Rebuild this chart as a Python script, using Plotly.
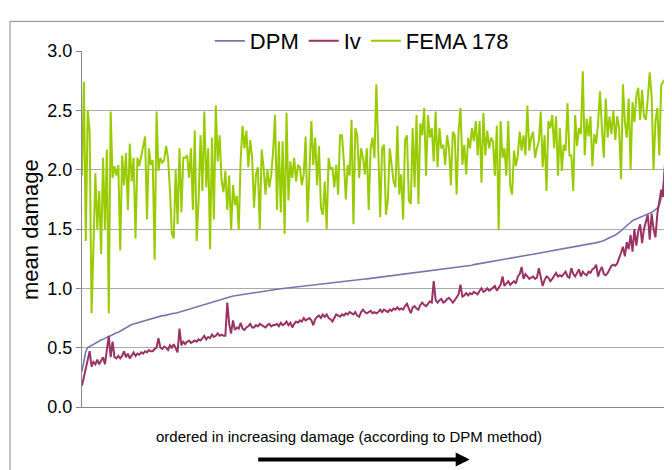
import plotly.graph_objects as go

# ---- data ----
fema = [
    1.95, 2.74, 1.4, 2.5, 2.32, 0.79, 1.35, 1.97, 1.5, 1.82, 1.29, 2.1, 1.5, 2.17, 0.79, 2.49, 1.93, 2.03, 1.95, 2.04,
    1.32, 2.12, 1.87, 2.14, 1.66, 2.22, 1.9, 2.1, 1.42, 2.1, 2.03, 2.12, 2.18, 2.28, 1.58, 2.18, 2.04, 2.08, 1.24, 2.49,
    1.99, 2.1, 2.06, 2.08, 2.2, 2.1, 1.83, 1.46, 1.42,
    2.0, 1.54, 2.18, 1.64, 2.1, 2.1, 2.12, 1.93, 2.18, 1.66, 2.33, 1.4, 1.74, 2.29, 1.82, 2.49, 1.85, 2.18, 1.33, 2.27,
    1.58, 2.54, 2.07, 2.29, 1.91, 1.81, 1.99, 1.66, 1.95, 1.49, 1.87, 1.7, 1.78, 1.49, 2.08, 2.37, 2.18, 2.33, 2.02, 2.25,
    2.1, 1.68, 1.96, 2.02, 1.5, 2.17, 2.02, 1.79, 2.0, 1.85, 1.96, 2.16,
    2.46, 1.66, 2.24, 1.64, 2.24, 1.46, 2.48, 1.74, 2.07, 1.93, 2.1, 1.9, 2.04, 2.02, 1.87, 1.96, 2.28, 1.56, 2.06, 2.41,
    2.04, 2.27, 1.87, 2.2, 1.68, 1.62, 1.9, 1.5, 2.1, 2.0, 2.02, 1.85, 2.04, 1.79, 2.29, 2.29, 2.07, 1.75, 2.04, 1.95,
    2.42, 1.54, 2.35, 2.29, 1.93, 2.18, 2.1, 1.96, 2.18,
    1.66, 2.18, 2.27, 2.1, 2.72, 2.18, 1.6, 2.18, 2.21, 1.62, 1.74, 2.18, 2.04, 1.9, 1.85, 2.37, 1.79, 1.96, 1.58, 2.25,
    2.29, 1.74, 1.71, 2.35, 1.85, 2.46, 1.71, 2.39, 2.29, 2.52, 1.95, 2.46, 2.27, 2.35, 2.07, 2.49, 2.02, 2.35, 2.18, 2.21,
    2.04, 2.29, 2.18, 1.87, 2.32, 2.29, 1.79, 2.32, 2.52, 2.04, 2.21, 1.96, 2.27, 2.18,
    2.35, 2.24, 2.41, 2.12, 2.41, 1.89, 2.48, 2.12, 2.33, 2.18, 2.27, 2.24, 1.95, 2.37, 1.49, 2.41, 2.1, 2.18, 1.95, 2.41,
    1.87, 1.79, 2.16, 2.03, 2.12, 2.32, 2.16, 2.29, 2.12, 2.54, 2.16, 2.27, 2.32, 2.1, 2.18, 2.24, 2.49, 2.02, 2.29, 1.82,
    2.41, 2.35, 2.46, 2.18, 2.45, 1.95, 2.35, 1.99, 2.21, 2.16, 2.56, 2.12,
    2.12, 1.82, 2.46, 2.2, 2.35, 2.3, 2.83, 2.12, 2.43, 2.28, 2.45, 2.03, 2.3, 2.22, 2.4, 2.66, 2.35, 2.1, 2.6, 2.27,
    2.45, 2.3, 2.5, 2.25, 2.45, 2.35, 1.92, 2.72, 2.4, 2.27, 2.6, 2.0, 2.57, 2.4, 2.62, 2.69, 2.42, 2.67, 2.45, 2.42,
    2.6, 2.82, 2.62, 2.0, 2.41, 2.52, 2.12, 2.71, 2.74, 2.76,
]

iv = [
    0.18, 0.25, 0.32, 0.38, 0.47, 0.34, 0.38, 0.36, 0.4, 0.36, 0.39, 0.42, 0.36, 0.48, 0.6, 0.42, 0.55, 0.42, 0.41, 0.43,
    0.41, 0.43, 0.47, 0.42, 0.45, 0.41, 0.44, 0.46, 0.43, 0.45, 0.44, 0.46, 0.45, 0.47, 0.46, 0.48, 0.47, 0.47, 0.49, 0.5,
    0.58, 0.5, 0.49, 0.51, 0.5, 0.48, 0.52, 0.5, 0.53,
    0.5, 0.46, 0.66, 0.52, 0.55, 0.53, 0.55, 0.56, 0.54, 0.55, 0.56, 0.55, 0.57, 0.56, 0.58, 0.6, 0.57, 0.59, 0.58, 0.61,
    0.59, 0.6, 0.62, 0.6, 0.61, 0.6, 0.6, 0.88, 0.7, 0.62, 0.73, 0.65, 0.67, 0.66, 0.71, 0.66, 0.65, 0.67, 0.68, 0.7,
    0.67, 0.67, 0.69, 0.68, 0.7, 0.69, 0.68, 0.67, 0.69, 0.7, 0.68, 0.69,
    0.69, 0.7, 0.68, 0.71, 0.69, 0.7, 0.72, 0.69, 0.71, 0.67, 0.7, 0.72, 0.71, 0.73, 0.72, 0.75, 0.73, 0.74, 0.75, 0.73,
    0.69, 0.74, 0.76, 0.77, 0.75, 0.78, 0.76, 0.78, 0.75, 0.74, 0.72, 0.75, 0.78, 0.77, 0.76, 0.78, 0.77, 0.79, 0.78, 0.8,
    0.79, 0.78, 0.8, 0.77, 0.76, 0.8, 0.82, 0.8, 0.79,
    0.8, 0.81, 0.79, 0.8, 0.79, 0.8, 0.82, 0.8, 0.82, 0.81, 0.8, 0.82, 0.81, 0.83, 0.82, 0.84, 0.82, 0.83, 0.82, 0.85,
    0.87, 0.83, 0.79, 0.84, 0.85, 0.83, 0.82, 0.86, 0.88, 0.86, 0.85, 0.87, 0.89, 0.88, 1.06, 0.9, 0.88, 0.9, 0.91, 0.88,
    0.89, 0.91, 0.92, 0.9, 0.88, 0.9, 0.93, 0.95, 1.03, 0.93, 0.94, 0.96, 0.94, 0.96,
    0.95, 0.97, 0.96, 0.95, 0.98, 1.0, 0.97, 0.98, 1.0, 0.98, 0.99, 1.01, 1.02, 0.98, 1.0, 1.03, 1.1, 1.02, 1.04, 1.06,
    1.03, 1.05, 1.06, 1.04, 1.1, 1.12, 1.18, 1.08, 1.12, 1.1, 1.08, 1.09, 1.1, 1.08, 1.09, 1.17, 1.08, 1.02, 1.07, 1.1,
    1.09, 1.06, 1.08, 1.1, 1.13, 1.1, 1.11, 1.1, 1.12, 1.14, 1.1, 1.09,
    1.17, 1.12, 1.1, 1.13, 1.16, 1.1, 1.14, 1.12, 1.11, 1.14, 1.13, 1.16, 1.17, 1.2, 1.1, 1.15, 1.18, 1.12, 1.11, 1.13,
    1.16, 1.19, 1.2, 1.19, 1.21, 1.25, 1.3, 1.35, 1.27, 1.39, 1.33, 1.45, 1.31, 1.5, 1.36, 1.48, 1.54, 1.38, 1.5, 1.56,
    1.62, 1.41, 1.63, 1.5, 1.43, 1.63, 1.75, 1.83, 1.77, 2.05,
]

dpm = [
    0.30, 0.40, 0.47, 0.50, 0.51, 0.52, 0.53, 0.54, 0.545, 0.555, 0.565, 0.57, 0.58, 0.585, 0.595, 0.60, 0.61, 0.62, 0.625, 0.63,
    0.64, 0.645, 0.655, 0.665, 0.675, 0.685, 0.695, 0.70, 0.705, 0.71, 0.715, 0.72, 0.725, 0.73, 0.735, 0.74, 0.745, 0.75, 0.755, 0.76,
    0.76, 0.765, 0.77, 0.77, 0.775, 0.78, 0.78, 0.785, 0.79,
    0.79, 0.795, 0.80, 0.805, 0.81, 0.815, 0.82, 0.825, 0.83, 0.835, 0.84, 0.845, 0.85, 0.855, 0.86, 0.865, 0.87, 0.875, 0.88,
    0.885, 0.89, 0.895, 0.90, 0.905, 0.91, 0.913, 0.917, 0.92, 0.925, 0.93, 0.935,
    0.937, 0.94, 0.942, 0.945, 0.947, 0.95, 0.952, 0.955, 0.957, 0.96, 0.962, 0.965, 0.967, 0.97, 0.972, 0.975, 0.977, 0.98,
    0.982, 0.985, 0.988,
    0.99, 0.992, 0.994, 0.996, 0.998, 1.0, 1.002, 1.004, 1.006, 1.008, 1.01, 1.012, 1.014, 1.016, 1.018, 1.02, 1.022, 1.024,
    1.026, 1.028, 1.03, 1.032, 1.034, 1.036, 1.038, 1.04, 1.041, 1.043, 1.045, 1.047, 1.049, 1.051, 1.053, 1.055, 1.057, 1.059,
    1.061, 1.063, 1.064, 1.066, 1.068, 1.07, 1.071, 1.073, 1.074, 1.076, 1.077, 1.079, 1.08,
    1.082, 1.084, 1.086, 1.088, 1.09, 1.092, 1.094, 1.096, 1.098, 1.1, 1.102, 1.104, 1.106, 1.108, 1.11, 1.112, 1.114, 1.116,
    1.118, 1.12, 1.122, 1.124, 1.126, 1.128, 1.13, 1.132, 1.134, 1.136, 1.138, 1.14, 1.142, 1.144, 1.146, 1.148, 1.15, 1.152,
    1.154, 1.156, 1.158, 1.16, 1.162, 1.164, 1.166, 1.168, 1.17, 1.172, 1.174, 1.176, 1.178, 1.18, 1.183, 1.186, 1.189, 1.192,
    1.195, 1.2, 1.203, 1.206, 1.209, 1.212, 1.215, 1.218, 1.221, 1.224, 1.227, 1.23, 1.233, 1.236, 1.239, 1.242, 1.245, 1.248,
    1.25, 1.253, 1.256, 1.259, 1.262, 1.264, 1.267, 1.27, 1.272, 1.275, 1.277, 1.28, 1.282, 1.285, 1.287, 1.29, 1.292, 1.295,
    1.298, 1.3, 1.303, 1.306, 1.309, 1.312, 1.316, 1.32, 1.325, 1.33, 1.332, 1.334, 1.336, 1.338, 1.34, 1.342,
    1.345, 1.35, 1.355, 1.36, 1.363, 1.366, 1.368, 1.37, 1.372, 1.375, 1.377, 1.379, 1.381, 1.384, 1.388, 1.392, 1.397, 1.403,
    1.41, 1.418, 1.426, 1.434, 1.442, 1.45, 1.46, 1.47, 1.485, 1.5, 1.515, 1.53, 1.545, 1.56, 1.57, 1.578, 1.585, 1.59,
    1.595, 1.6, 1.608, 1.615, 1.622, 1.63, 1.64, 1.65, 1.66, 1.675, 1.7, 1.76, 1.86, 2.04,
]

series_names = ["DPM", "Iv", "FEMA 178"]
y_ticks = [0.0, 0.5, 1.0, 1.5, 2.0, 2.5, 3.0]
x_title = "ordered in increasing damage (according to DPM method)"
y_title = "mean damage"

n = min(len(dpm), len(iv), len(fema))
x = list(range(n))

FONT = "Liberation Sans, Arial, sans-serif"

fig = go.Figure()
fig.add_trace(go.Scatter(x=x, y=dpm[:n], mode="lines", name=series_names[0],
                         line=dict(color="#7575B0", width=1.6)))
fig.add_trace(go.Scatter(x=x, y=iv[:n], mode="lines", name=series_names[1],
                         line=dict(color="#993366", width=2)))
fig.add_trace(go.Scatter(x=x, y=fema[:n], mode="lines", name=series_names[2],
                         line=dict(color="#99CC00", width=2)))

fig.update_layout(
    width=672, height=470,
    margin=dict(l=74, r=15, t=39, b=71),
    paper_bgcolor="white", plot_bgcolor="white",
    font=dict(family=FONT, color="black"),
    showlegend=True,
    legend=dict(orientation="h", x=0.48, xanchor="center", y=1.028, yanchor="middle",
                font=dict(size=22, family=FONT), bgcolor="rgba(0,0,0,0)",
                itemwidth=30, tracegroupgap=0),
    xaxis=dict(range=[0, n - 1], showgrid=False, zeroline=False, showline=True,
               linecolor="#868686", linewidth=1, ticks="", showticklabels=False),
    yaxis=dict(range=[0, 3], tickvals=y_ticks, tickformat=".1f", showgrid=True,
               gridcolor="#ababab", gridwidth=1, zeroline=False, showline=True,
               linecolor="#868686", linewidth=1, ticks="outside", ticklen=5,
               tickcolor="#868686", tickfont=dict(size=18, family=FONT, color="black")),
    shapes=[dict(type="rect", xref="paper", yref="paper", x0=-0.1235, x1=1.2,
                 y0=-0.4, y1=1.0833, line=dict(color="#868686", width=1),
                 fillcolor="rgba(0,0,0,0)", layer="below")],
    annotations=[
        dict(text=y_title, xref="paper", yref="paper", x=-0.0892, y=0.5, textangle=-90,
             showarrow=False, xanchor="center", yanchor="middle",
             font=dict(size=22, family=FONT)),
        dict(text=x_title, xref="paper", yref="paper", x=0.458, y=-0.0833,
             showarrow=False, xanchor="center", yanchor="middle",
             font=dict(size=15, family=FONT)),
        dict(text="", xref="paper", yref="paper", x=0.665, y=-0.1472, ax=-213, ay=0,
             showarrow=True, arrowhead=2, arrowwidth=4, arrowsize=0.7, arrowcolor="black"),
    ],
)

fig.write_html("out.html")
